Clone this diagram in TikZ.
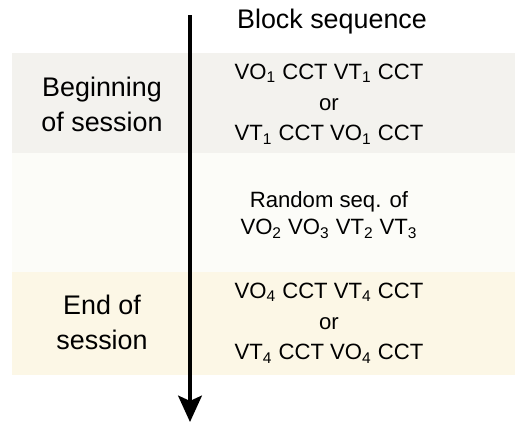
\documentclass[tikz,border=0pt]{standalone}
\usepackage{fontspec}
\setmainfont{Liberation Sans}
\usetikzlibrary{arrows.meta}
\definecolor{bandone}{HTML}{F3F2EE}
\definecolor{bandtwo}{HTML}{FCFCF8}
\definecolor{bandthree}{HTML}{FCF7E6}
\newcommand{\sbs}[1]{\textsubscript{#1}}

\begin{document}
\begin{tikzpicture}[x=0.02cm,y=-0.02cm,
    side/.style={align=center,inner sep=0pt,font=\fontsize{15.3}{20}\selectfont},
    seq/.style={align=center,inner sep=0pt,font=\fontsize{12.6}{17.5}\selectfont}]
    \useasboundingbox (0,0) rectangle (515,424);
    \fill[bandone] (12,53) rectangle (515,153);
    \fill[bandtwo] (12,153) rectangle (515,272);
    \fill[bandthree] (12,272) rectangle (515,375);
    \coordinate (top) at (190,15);
    \coordinate (bottom) at (190,422);
    \draw[line width=2pt,-{Stealth[length=15pt,width=13.5pt,inset=3pt]}] (top) -- (bottom);
    \node[side] (head) at (332,22) {Block sequence};
    \node[side] (begin) at (102,104) {Beginning\\of session};
    \node[side] (end) at (102,322) {End of\\session};
    \node[seq] (first) at (329,104) {VO\sbs{1} CCT VT\sbs{1} CCT\\or\\VT\sbs{1} CCT VO\sbs{1} CCT};
    \node[seq,font=\fontsize{12.6}{15.5}\selectfont] (middle) at (329,215) {Random seq. of\\VO\sbs{2} VO\sbs{3} VT\sbs{2} VT\sbs{3}};
    \node[seq] (last) at (329,323) {VO\sbs{4} CCT VT\sbs{4} CCT\\or\\VT\sbs{4} CCT VO\sbs{4} CCT};
  \end{tikzpicture}
\end{document}
